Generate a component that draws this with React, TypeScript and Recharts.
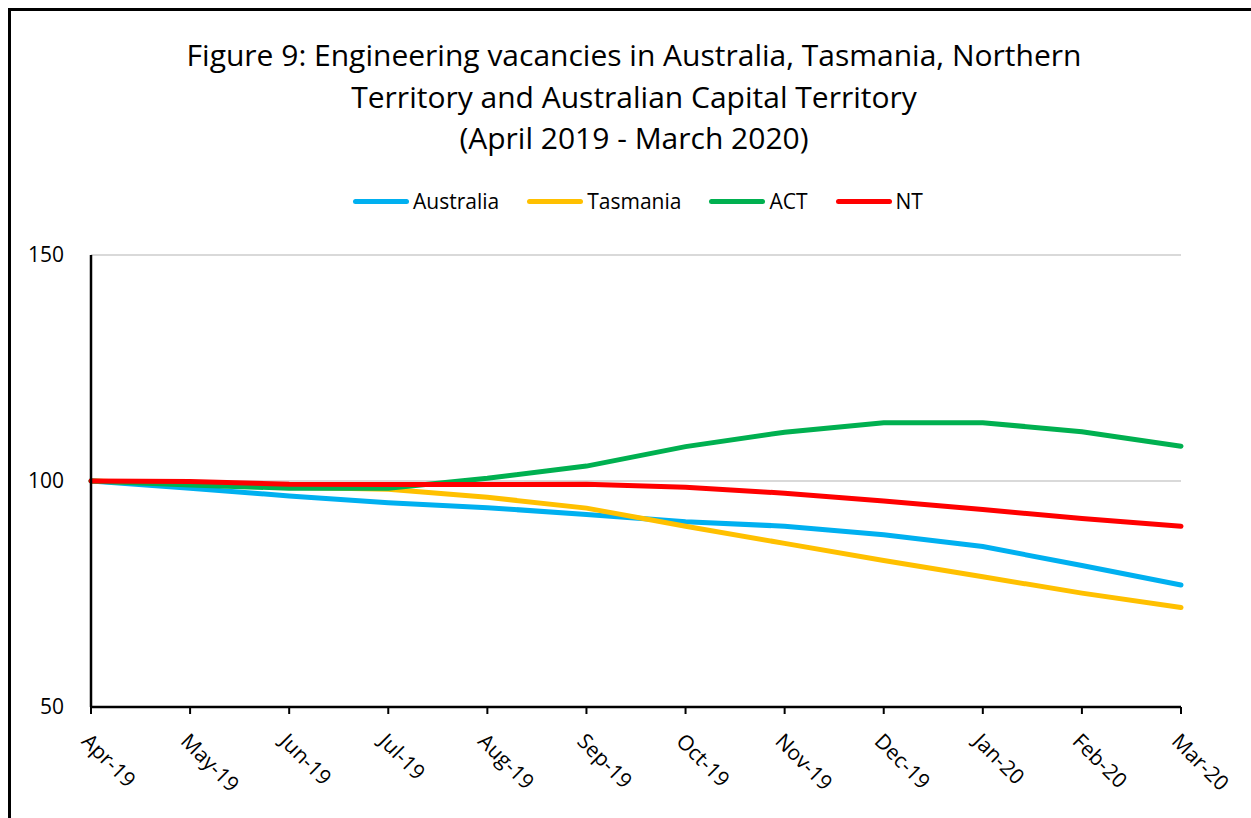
import { CartesianGrid, Line, LineChart, XAxis, YAxis } from "recharts";

const months = ["Apr-19", "May-19", "Jun-19", "Jul-19", "Aug-19", "Sep-19", "Oct-19", "Nov-19", "Dec-19", "Jan-20", "Feb-20", "Mar-20"];
const australia = [100, 98.4, 96.7, 95.2, 94.1, 92.6, 91.0, 90.0, 88.1, 85.5, 81.3, 77.0];
const tasmania = [100, 99.4, 98.6, 98.2, 96.4, 94.0, 90.0, 86.2, 82.4, 78.8, 75.2, 72.0];
const act = [100, 99.1, 98.4, 98.4, 100.6, 103.3, 107.6, 110.8, 112.9, 112.9, 110.9, 107.7];
const nt = [100, 99.9, 99.3, 99.2, 99.2, 99.3, 98.6, 97.3, 95.6, 93.7, 91.7, 90.0];
const yTicks = [50, 100, 150];

const titleLines = [
  "Figure 9: Engineering vacancies in Australia, Tasmania, Northern",
  "Territory and Australian Capital Territory",
  "(April 2019 - March 2020)",
];

const series = [
  { name: "Australia", color: "#00B0F0" },
  { name: "Tasmania", color: "#FFC000" },
  { name: "ACT", color: "#00B050" },
  { name: "NT", color: "#FF0000" },
];

const data = months.map((month, i) => ({
  month,
  Australia: australia[i],
  Tasmania: tasmania[i],
  ACT: act[i],
  NT: nt[i],
}));

const font = "'Open Sans', 'Noto Sans', sans-serif";

export default function App() {
  return (
    <div
      style={{
        position: "fixed",
        left: 8,
        top: 8,
        width: 1300,
        height: 900,
        border: "3px solid #000",
        background: "#fff",
        fontFamily: font,
        color: "#000",
      }}
    >
      <div style={{ position: "absolute", left: 0, top: 23, width: 1246, textAlign: "center", fontSize: 30, lineHeight: "41.5px" }}>
        {titleLines.map((t) => (
          <div key={t}>{t}</div>
        ))}
      </div>
      <div
        style={{
          position: "absolute",
          left: 0,
          top: 175,
          width: 1254,
          height: 30,
          display: "flex",
          justifyContent: "center",
          alignItems: "center",
          fontSize: 21,
        }}
      >
        {series.map((s) => (
          <div key={s.name} style={{ display: "flex", alignItems: "center", margin: "0 14px" }}>
            <div style={{ width: 56, height: 5, borderRadius: 3, background: s.color, marginRight: 4 }} />
            <span>{s.name}</span>
          </div>
        ))}
      </div>
      <LineChart width={1240} height={810} data={data} margin={{ top: 244, right: 70, left: 0, bottom: 14 }}>
        <CartesianGrid vertical={false} stroke="#d9d9d9" strokeWidth={2} />
        <XAxis
          dataKey="month"
          scale="point"
          padding={{ left: 0, right: 0 }}
          height={100}
          interval={0}
          axisLine={{ stroke: "#000", strokeWidth: 2.5 }}
          tickLine={{ stroke: "#000", strokeWidth: 2 }}
          tickSize={7}
          tickMargin={18}
          angle={45}
          textAnchor="start"
          tick={{ fill: "#000", fontSize: 21, fontFamily: font }}
        />
        <YAxis
          domain={[50, 150]}
          ticks={yTicks}
          width={80}
          axisLine={{ stroke: "#000", strokeWidth: 2.5 }}
          tickLine={false}
          tickSize={0}
          tickMargin={27}
          tick={{ fill: "#000", fontSize: 21, fontFamily: font }}
        />
        {series.map((s) => (
          <Line
            key={s.name}
            type="linear"
            dataKey={s.name}
            stroke={s.color}
            strokeWidth={5}
            strokeLinecap="round"
            dot={false}
            activeDot={false}
            isAnimationActive={false}
          />
        ))}
      </LineChart>
    </div>
  );
}
